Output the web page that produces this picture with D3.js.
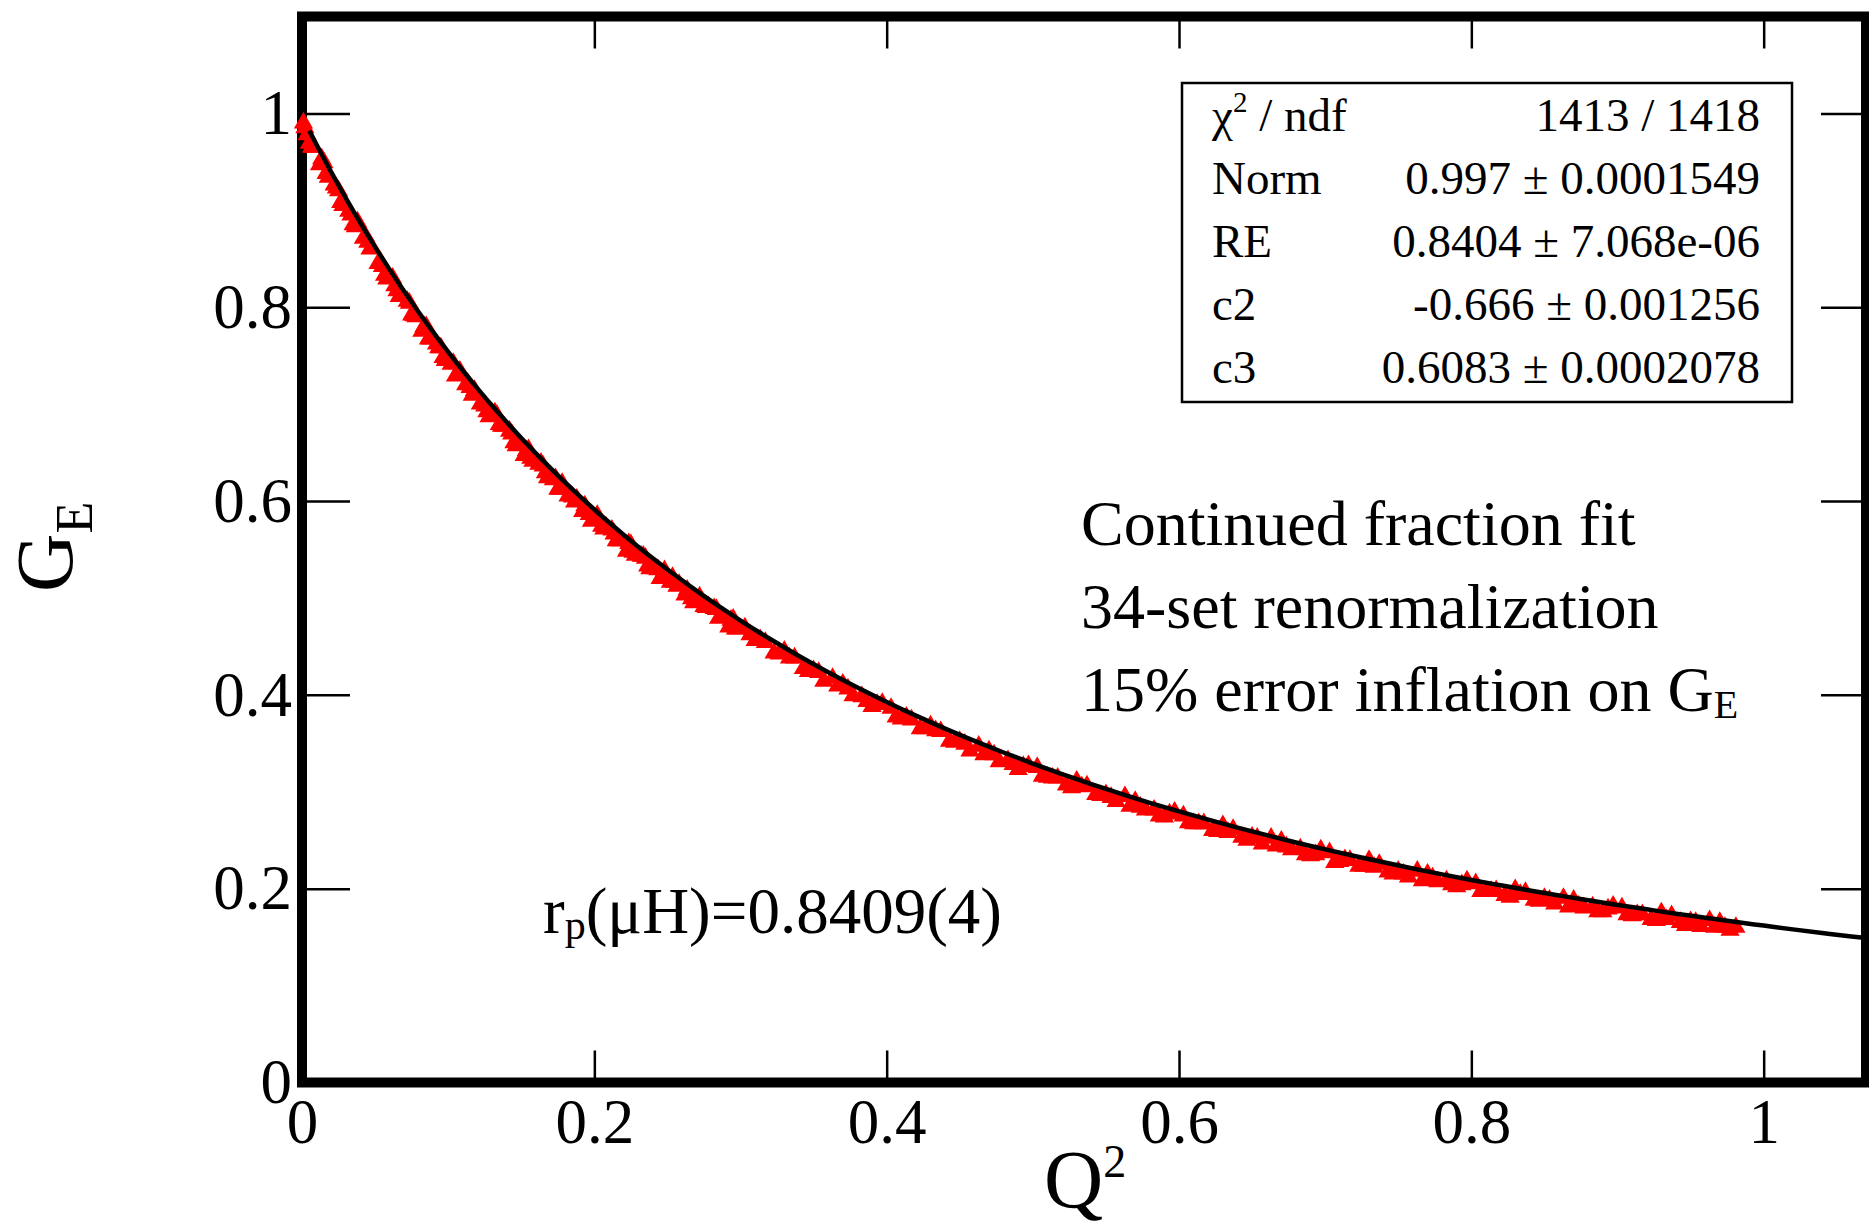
<!DOCTYPE html>
<html>
<head>
<meta charset="utf-8">
<script src="https://cdn.jsdelivr.net/npm/d3@7"></script>
<style>
  html, body { margin: 0; padding: 0; background: #fff; }
  svg { display: block; }
  text { font-family: "Liberation Serif", "Times New Roman", serif; fill: #000; }
</style>
</head>
<body>
<svg id="chart" width="1869" height="1225"></svg>
<script>
// ---- data: proton electric form factor G_E versus Q^2 (GeV^2) ----
// low-Q^2 measurements, first group
const q2Low = [0.001,
  0.002,0.005,0.008, 0.012,0.015,0.018, 0.022,0.025,0.028, 0.032,0.035,0.038,
  0.042,0.045,0.048, 0.052,0.055,0.058, 0.062,0.065,0.068, 0.072,0.075,0.078,
  0.082,0.085,0.088, 0.092,0.095,0.098, 0.102,0.105,0.108, 0.112,0.115,0.118,
  0.122,0.125,0.128, 0.132,0.135,0.138, 0.142,0.145,0.148, 0.152,0.155,0.158,
  0.162,0.165,0.168, 0.172,0.175,0.178, 0.182,0.185,0.188, 0.192,0.195,0.198,
  0.202,0.205,0.208, 0.212,0.215,0.218, 0.222,0.225,0.228, 0.232,0.235,0.238,
  0.242,0.245,0.248, 0.252,0.255,0.258, 0.262,0.265,0.268, 0.272,0.275,0.278,
  0.282,0.285,0.288, 0.292,0.295,0.298];
const geLow = [0.993,
  0.988,0.972,0.968, 0.950,0.952,0.937, 0.929,0.923,0.908, 0.902,0.888,0.891,
  0.874,0.870,0.864, 0.848,0.845,0.832, 0.833,0.820,0.816, 0.809,0.795,0.793,
  0.778,0.783,0.770, 0.765,0.761,0.748, 0.744,0.732,0.737, 0.723,0.720,0.717,
  0.703,0.701,0.690, 0.694,0.682,0.680, 0.675,0.663,0.662, 0.650,0.656,0.644,
  0.641,0.639,0.627, 0.625,0.615,0.621, 0.608,0.607,0.605, 0.592,0.592,0.582,
  0.588,0.577,0.576, 0.573,0.562,0.562, 0.551,0.558,0.547, 0.546,0.544,0.533,
  0.533,0.523,0.531, 0.519,0.519,0.517, 0.506,0.507,0.498, 0.504,0.494,0.494,
  0.492,0.482,0.483, 0.473,0.481,0.471];

// low-Q^2 measurements, second group
const q2LowB = [0.0035,0.0065, 0.0135,0.0165, 0.0235,0.0265, 0.0335,0.0365,
  0.0435,0.0465, 0.0535,0.0565, 0.0635,0.0665, 0.0735,0.0765, 0.0835,0.0865,
  0.0935,0.0965, 0.1035,0.1065, 0.1135,0.1165, 0.1235,0.1265, 0.1335,0.1365,
  0.1435,0.1465, 0.1535,0.1565, 0.1635,0.1665, 0.1735,0.1765, 0.1835,0.1865,
  0.1935,0.1965, 0.2035,0.2065, 0.2135,0.2165, 0.2235,0.2265, 0.2335,0.2365,
  0.2435,0.2465, 0.2535,0.2565, 0.2635,0.2665, 0.2735,0.2765, 0.2835,0.2865,
  0.2935,0.2965];
const geLowB = [0.981,0.968, 0.956,0.941, 0.926,0.911, 0.898,0.886,
  0.876,0.863, 0.850,0.836, 0.825,0.814, 0.807,0.794, 0.783,0.770,
  0.761,0.751, 0.745,0.733, 0.724,0.712, 0.704,0.695, 0.691,0.680,
  0.672,0.660, 0.655,0.647, 0.642,0.632, 0.626,0.615, 0.609,0.602,
  0.598,0.589, 0.584,0.574, 0.569,0.562, 0.559,0.550, 0.546,0.536,
  0.532,0.525, 0.524,0.515, 0.511,0.502, 0.499,0.493, 0.491,0.483,
  0.480,0.471];

// higher-Q^2 measurements, first group
const q2High = [
  0.303,0.310,0.317, 0.323,0.330,0.337, 0.343,0.350,0.357, 0.363,0.370,0.377,
  0.383,0.390,0.397, 0.403,0.410,0.417, 0.423,0.430,0.437, 0.443,0.450,0.457,
  0.463,0.470,0.477, 0.483,0.490,0.497, 0.503,0.510,0.517, 0.523,0.530,0.537,
  0.543,0.550,0.557, 0.563,0.570,0.577, 0.583,0.590,0.597, 0.603,0.610,0.617,
  0.623,0.630,0.637, 0.643,0.650,0.657, 0.663,0.670,0.677, 0.683,0.690,0.697,
  0.703,0.710,0.717, 0.723,0.730,0.737, 0.743,0.750,0.757, 0.763,0.770,0.777,
  0.783,0.790,0.797, 0.803,0.810,0.817, 0.823,0.830,0.837, 0.843,0.850,0.857,
  0.863,0.870,0.877, 0.883,0.890,0.897, 0.903,0.910,0.917, 0.923,0.930,0.937,
  0.943,0.950,0.957, 0.963,0.970,0.977, 0.981];
const geHigh = [
  0.472,0.459,0.457, 0.446,0.448,0.441, 0.430,0.428,0.417, 0.420,0.414,0.402,
  0.401,0.391,0.394, 0.389,0.378,0.377, 0.368,0.371,0.365, 0.355,0.355,0.345,
  0.350,0.345,0.334, 0.335,0.326,0.330, 0.328,0.318,0.317, 0.310,0.314,0.309,
  0.300,0.300,0.293, 0.298,0.293,0.284, 0.284,0.277,0.282, 0.278,0.270,0.270,
  0.263,0.268,0.264, 0.256,0.256,0.249, 0.255,0.252,0.243, 0.244,0.237,0.243,
  0.240,0.231,0.232, 0.226,0.232,0.228, 0.220,0.221,0.215, 0.221,0.218,0.210,
  0.211,0.205,0.211, 0.208,0.200,0.201, 0.196,0.202,0.199, 0.191,0.193,0.187,
  0.193,0.191,0.183, 0.184,0.179,0.185, 0.183,0.175,0.176, 0.171,0.178,0.175,
  0.168,0.169,0.164, 0.170,0.168,0.160, 0.163];

// higher-Q^2 measurements, second group
const q2HighB = [0.3065,0.3135, 0.3265,0.3335, 0.3465,0.3535, 0.3665,0.3735,
  0.3865,0.3935, 0.4065,0.4135, 0.4265,0.4335, 0.4465,0.4535, 0.4665,0.4735,
  0.4865,0.4935, 0.5065,0.5135, 0.5265,0.5335, 0.5465,0.5535, 0.5665,0.5735,
  0.5865,0.5935, 0.6065,0.6135, 0.6265,0.6335, 0.6465,0.6535, 0.6665,0.6735,
  0.6865,0.6935, 0.7065,0.7135, 0.7265,0.7335, 0.7465,0.7535, 0.7665,0.7735,
  0.7865,0.7935, 0.8065,0.8135, 0.8265,0.8335, 0.8465,0.8535, 0.8665,0.8735,
  0.8865,0.8935, 0.9065,0.9135, 0.9265,0.9335, 0.9465,0.9535, 0.9665,0.9735];
const geHighB = [0.465,0.460, 0.445,0.441, 0.427,0.426, 0.412,0.409,
  0.396,0.393, 0.380,0.380, 0.368,0.366, 0.354,0.352, 0.341,0.341,
  0.331,0.329, 0.319,0.317, 0.307,0.308, 0.299,0.297, 0.288,0.287,
  0.278,0.280, 0.271,0.270, 0.262,0.261, 0.253,0.255, 0.247,0.246,
  0.238,0.238, 0.230,0.233, 0.226,0.225, 0.218,0.218, 0.211,0.214,
  0.207,0.207, 0.200,0.200, 0.194,0.197, 0.190,0.191, 0.184,0.185,
  0.179,0.182, 0.176,0.176, 0.170,0.171, 0.165,0.168, 0.163,0.163];

// continued-fraction fit curve
const q2Fit = [0.005,0.01,0.02,0.03,0.04,0.05,0.06,0.07,0.08,0.09,0.10,
  0.11,0.12,0.13,0.14,0.15,0.16,0.17,0.18,0.19,0.20,
  0.21,0.22,0.23,0.24,0.25,0.26,0.27,0.28,0.29,0.30,
  0.32,0.34,0.36,0.38,0.40,0.42,0.44,0.46,0.48,0.50,
  0.52,0.54,0.56,0.58,0.60,0.62,0.64,0.66,0.68,0.70,
  0.72,0.74,0.76,0.78,0.80,0.82,0.84,0.86,0.88,0.90,
  0.92,0.94,0.96,0.98,1.00,1.02,1.04,1.06,1.07];
const geFit = [0.9821,0.9676,0.9394,0.9126,0.8869,0.8623,0.8388,0.8162,0.7946,0.7738,0.7539,
  0.7347,0.7163,0.6985,0.6815,0.6650,0.6492,0.6340,0.6192,0.6050,0.5913,
  0.5781,0.5653,0.5529,0.5409,0.5294,0.5182,0.5073,0.4968,0.4866,0.4767,
  0.4579,0.4401,0.4234,0.4076,0.3927,0.3786,0.3652,0.3525,0.3405,0.3291,
  0.3182,0.3079,0.2980,0.2886,0.2797,0.2712,0.2630,0.2552,0.2477,0.2406,
  0.2337,0.2272,0.2209,0.2148,0.2090,0.2035,0.1981,0.1930,0.1880,0.1832,
  0.1787,0.1742,0.1700,0.1658,0.1619,0.1580,0.1543,0.1507,0.1490];

// axes
const xTicks = [0, 0.2, 0.4, 0.6, 0.8, 1];
const xTickLabels = ["0", "0.2", "0.4", "0.6", "0.8", "1"];
const yTicks = [0, 0.2, 0.4, 0.6, 0.8, 1];
const yTickLabels = ["0", "0.2", "0.4", "0.6", "0.8", "1"];

// fit statistics box
const statNames = ["χ", "Norm", "RE", "c2", "c3"];
const statValues = ["1413 / 1418", "0.997 ± 0.0001549", "0.8404 ± 7.068e-06",
                    "-0.666 ± 0.001256", "0.6083 ± 0.0002078"];

// annotations
const noteLines = ["Continued fraction fit", "34-set renormalization", "15% error inflation on G"];
const radiusLabel = ["r", "p", "(μH)=0.8409(4)"];

// ---- drawing ----
const svg = d3.select("#chart");
const FONT = '"Liberation Serif", "Times New Roman", serif';

const x = d3.scaleLinear().domain([0, 1.07]).range([302, 1866]);
const y = d3.scaleLinear().domain([0, 1.1]).range([1082.5, 16.5]);

// frame
svg.append("rect")
  .attr("x", x(0)).attr("y", y(1.1))
  .attr("width", x(1.07) - x(0)).attr("height", y(0) - y(1.1))
  .attr("fill", "none").attr("stroke", "#000").attr("stroke-width", 10);

function styleAxis(g, size) {
  g.select(".domain").remove();
  g.attr("font-family", FONT).attr("font-size", size);
  g.selectAll(".tick line").attr("stroke", "#000").attr("stroke-width", 2.5);
  g.selectAll(".tick text").attr("fill", "#000");
}

svg.append("g").attr("transform", `translate(0,${y(0)})`)
  .call(d3.axisBottom(x).tickValues(xTicks).tickSize(-32).tickPadding(16)
        .tickFormat((d, i) => xTickLabels[i]))
  .call(g => styleAxis(g, 63));

svg.append("g").attr("transform", `translate(0,${y(1.1)})`)
  .call(d3.axisTop(x).tickValues(xTicks).tickSize(-32).tickFormat(""))
  .call(g => styleAxis(g, 63));

svg.append("g").attr("transform", `translate(${x(0)},0)`)
  .call(d3.axisLeft(y).tickValues(yTicks).tickSize(-48).tickPadding(10)
        .tickFormat((d, i) => yTickLabels[i]))
  .call(g => styleAxis(g, 63));

svg.append("g").attr("transform", `translate(${x(1.07)},0)`)
  .call(d3.axisRight(y).tickValues(yTicks).tickSize(-45).tickFormat(""))
  .call(g => styleAxis(g, 63));

// data points (red triangles, centred on their bounding box)
const pair = (xs, ys) => xs.map((q, i) => [q, ys[i]]);
const points = [].concat(pair(q2Low, geLow), pair(q2LowB, geLowB),
                         pair(q2High, geHigh), pair(q2HighB, geHighB));
const TRI_AREA = 160;
const triHalf = Math.sqrt(TRI_AREA / (Math.sqrt(3) * 3)) / 2;
const tri = d3.symbol().type(d3.symbolTriangle).size(TRI_AREA);
svg.append("g").selectAll("path").data(points).join("path")
  .attr("d", tri)
  .attr("transform", d => `translate(${x(d[0])},${y(d[1]) + triHalf})`)
  .attr("fill", "#ff0000");

// fit curve
const fitLine = d3.line().x(d => x(d[0])).y(d => y(d[1])).curve(d3.curveMonotoneX);
svg.append("path")
  .datum(pair(q2Fit, geFit))
  .attr("d", fitLine)
  .attr("fill", "none").attr("stroke", "#000").attr("stroke-width", 4.5);

// statistics box
const box = svg.append("g");
box.append("rect").attr("x", 1182).attr("y", 83).attr("width", 610).attr("height", 319)
  .attr("fill", "#fff").attr("stroke", "#000").attr("stroke-width", 2.5);
statNames.forEach((name, i) => {
  const by = 131 + i * 63;
  const t = box.append("text").attr("x", 1212).attr("y", by).attr("font-size", 47);
  if (i === 0) {
    t.append("tspan").text(name);
    t.append("tspan").attr("font-size", 29).attr("dy", -19).text("2");
    t.append("tspan").attr("dy", 19).text(" / ndf");
  } else {
    t.text(name);
  }
  box.append("text").attr("x", 1760).attr("y", by).attr("font-size", 47)
    .attr("text-anchor", "end").text(statValues[i]);
});

// annotation block
noteLines.forEach((line, i) => {
  const t = svg.append("text").attr("x", 1081).attr("y", 545 + i * 83).attr("font-size", 64);
  t.append("tspan").text(line);
  if (i === 2) t.append("tspan").attr("font-size", 40).attr("dy", 7).text("E");
});

// proton radius label
const rl = svg.append("text").attr("x", 543).attr("y", 933).attr("font-size", 65);
rl.append("tspan").text(radiusLabel[0]);
rl.append("tspan").attr("font-size", 42).attr("dy", 6).text(radiusLabel[1]);
rl.append("tspan").attr("dy", -6).text(radiusLabel[2]);

// axis titles
const xt = svg.append("text").attr("x", 1044).attr("y", 1207).attr("font-size", 82);
xt.append("tspan").text("Q");
xt.append("tspan").attr("font-size", 46).attr("dy", -30).text("2");

const yt = svg.append("text").attr("transform", "translate(72,592) rotate(-90)").attr("font-size", 81);
yt.append("tspan").text("G");
yt.append("tspan").attr("font-size", 52).attr("dy", 20).text("E");
</script>
</body>
</html>
